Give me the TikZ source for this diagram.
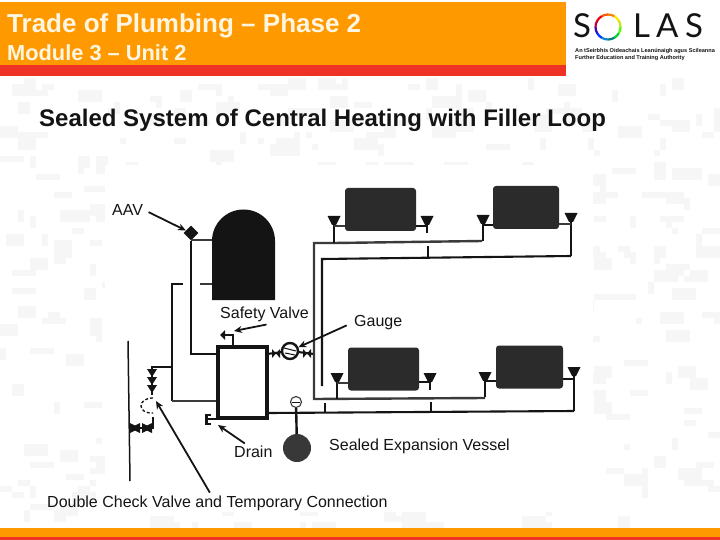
\documentclass[tikz,border=0pt]{standalone}
\usepackage{fontspec}
\setmainfont{Liberation Sans}
\newfontfamily\logofont{Lato}
\usetikzlibrary{arrows.meta,shapes.geometric}
\definecolor{band}{HTML}{FF9900}
\definecolor{redband}{HTML}{EE3326}
\definecolor{mottle}{HTML}{F6F6F6}
\definecolor{ink}{HTML}{141414}
\definecolor{headtxt}{HTML}{FFF6E2}
\definecolor{pipegrey}{HTML}{3A3A3A}
\definecolor{radfill}{HTML}{2B2B2B}
\tikzset{
  txt/.style={anchor=base west, inner sep=0pt, text=ink, font=\fontsize{16}{18}\selectfont},
  pipe/.style={draw=ink, line width=2.1pt},
  greypipe/.style={draw=pipegrey, line width=2.4pt},
  radiator/.style={draw=none, fill=radfill, rounded corners=3pt, inner sep=0pt, minimum height=43pt},
  funnel/.style={fill=ink, draw=none},
  pointer/.style={draw=ink, line width=1.8pt, -{Stealth[length=8pt,width=7pt]}},
}
\begin{document}
\begin{tikzpicture}[x=1pt, y=-1pt]
  \useasboundingbox (0,0) rectangle (720,540);
  \fill[white] (0,0) rectangle (720,540);

  % mottled background
  \pgfmathsetseed{2718}
  \foreach \i in {1,...,520} {
    \pgfmathrandominteger{\bx}{0}{119}
    \pgfmathrandominteger{\by}{13}{87}
    \pgfmathrandominteger{\bw}{1}{4}
    \pgfmathrandominteger{\bh}{1}{2}
    \fill[mottle] (6*\bx,6*\by) rectangle (6*\bx+6*\bw,6*\by+6*\bh);
  }
  \fill[white] (105,165) rectangle (593,512);

  % header and footer
  \fill[band] (0,2) rectangle (566,65);
  \fill[redband] (0,65) rectangle (566,76);
  \fill[band] (0,528) rectangle (720,537);
  \fill[redband] (0,537) rectangle (720,540);
  \node[txt, text=headtxt, font=\fontsize{26}{28}\selectfont\bfseries] (title) at (7,33) {Trade of Plumbing – Phase 2};
  \node[txt, text=headtxt, font=\fontsize{21.8}{24}\selectfont\bfseries] (module) at (7,61) {Module 3 – Unit 2};
  \node[txt, font=\fontsize{24}{26}\selectfont\bfseries] (heading) at (39,127) {Sealed System of Central Heating with Filler Loop};

  % logo
  \node[txt, font=\fontsize{33}{36}\logofont] (logos) at (573,38) {S};
  \foreach \a/\c in {0/yellow!80!green,30/yellow!90!orange,60/orange,90/orange!70!red,120/red!80!purple,150/purple,180/blue!70!purple,210/blue!80!cyan,240/cyan!70!blue,270/teal,300/green!60!teal,330/green!70!yellow} {
    \pgfmathsetmacro{\b}{\a+31}
    \draw[\c, line width=2.2pt] (608,27) ++(\a:12.5pt) arc[start angle=\a, end angle=\b, radius=12.5pt];
  }
  \node[txt, font=\fontsize{33}{36}\logofont] (logol) at (633,38) {L};
  \node[txt, font=\fontsize{33}{36}\logofont] (logoa) at (656,38) {A};
  \node[txt, font=\fontsize{33}{36}\logofont] (logoz) at (685,38) {S};
  \node[txt, font=\fontsize{5.6}{7}\selectfont\bfseries] (logoga) at (575,53) {An tSeirbhís Oideachais Leanúnaigh agus Scileanna};
  \node[txt, font=\fontsize{5.6}{7}\selectfont\bfseries] (logoen) at (575,60) {Further Education and Training Authority};

  % cylinder and its pipes
  \fill[black!92] (212,300) -- (212,241) arc[start angle=180, end angle=0, radius=31.5pt] -- (275,300) -- cycle;
  \node[diamond, fill=ink, inner sep=0pt, minimum size=15pt] (aavvalve) at (191,233) {};
  \draw[pipe] (aavvalve) -- (191,354) -- (217,354);
  \draw[greypipe] (aavvalve) ++(0,7) -- (212,240);
  \draw[pipe] (183,284) -- (172,284) -- (172,401);
  \draw[greypipe] (172,401) -- (217,401);
  \draw[greypipe] (200,284) -- (212,284);

  % boiler
  \node[draw=ink, fill=white, line width=3.4pt, minimum width=49pt, minimum height=71pt, inner sep=0pt] (boiler) at (242.5,382.5) {};
  \draw[pipe] (boiler.north -| 233,0) -- (233,335) -- (224,335);
  \fill[ink] (220,335) -- (225,330) -- (225,340) -- cycle;
  \coordinate (safetytip) at (234,331);
  \draw[pipe] (218,419) -- (208,419);
  \draw[pipe] (211,415) -- (206.5,415) -- (206.5,424) -- (211,424);
  \coordinate (draintip) at (218,425);

  % pump
  \node[circle, draw=ink, fill=white, line width=2.4pt, minimum size=16pt, inner sep=0pt] (pump) at (290,351) {};
  \draw[pipe] (267,354) -- (pump);
  \draw[pipe] (pump) -- (314,354);
  \draw[ink, line width=1pt] (284,348) -- (296,351) (285,353) -- (295,355);
  \foreach \vx in {276,307} {
    \fill[ink] (\vx-4,349) -- (\vx+4,358) -- (\vx+4,349) -- (\vx-4,358) -- cycle;
  }

  % flow and return pipes
  \draw[greypipe] (334,243) -- (314,243) -- (314,399) -- (485,398);
  \draw[greypipe] (334,243) -- (482,241);
  \draw[pipe] (322,386) -- (322,259) -- (571,256);
  \draw[pipe] (boiler.east |- 0,413) -- (574,411);
  \draw[pipe] (428,246) -- (428,258);
  \draw[pipe] (325,403) -- (325,413);
  \draw[pipe] (431,402) -- (431,412);

  % radiators
  \node[radiator, minimum width=71pt] (radone) at (380.5,209.5) {};
  \node[radiator, minimum width=66pt] (radtwo) at (526,207.5) {};
  \node[radiator, minimum width=71pt] (radthree) at (383.5,369) {};
  \node[radiator, minimum width=67pt] (radfour) at (529.5,367) {};

  % radiator valves, x / y / foot of stem
  \foreach \vx/\vy/\vend in {334/221/243, 427/221/233, 483/220/241, 571/218/256, 337/378/399, 430/378/390, 485/377/397, 574/372/411} {
    \draw[pipe] (\vx,\vy) -- (\vx,\vend);
    \fill[funnel] (\vx-6.5,\vy-5) -- (\vx+6.5,\vy-5) -- (\vx+2,\vy+4) -- (\vx-2,\vy+4) -- cycle;
  }
  \draw[greypipe] (radone.west |- 0,226) -- (334,226);
  \draw[pipe] (radone.east |- 0,226) -- (427,226);
  \draw[pipe] (radtwo.west |- 0,225) -- (483,225);
  \draw[greypipe] (radtwo.east |- 0,224) -- (571,224);
  \draw[greypipe] (radthree.west |- 0,383) -- (337,383);
  \draw[pipe] (radthree.east |- 0,382) -- (430,382);
  \draw[pipe] (radfour.west |- 0,381) -- (485,381);
  \draw[pipe] (radfour.east |- 0,379) -- (574,379);

  % expansion vessel
  \node[circle, draw=pipegrey, fill=white, line width=1.1pt, minimum size=11pt, inner sep=0pt] (gauge) at (296,402) {};
  \draw[ink, line width=.8pt] (292,402) -- (300,402);
  \node[circle, fill=black!78, minimum size=28pt, inner sep=0pt] (vessel) at (297,448) {};
  \draw[pipe, line width=2.4pt] (gauge) -- (vessel);

  % filler loop
  \draw[pipe] (172,367) -- (152,367) -- (152,395);
  \foreach \vy in {373,381,389} {
    \fill[ink] (152-5,\vy-4) -- (152+5,\vy-4) -- (152,\vy+4) -- cycle;
  }
  \draw[pipe, line width=1.3pt, dash pattern=on 3pt off 2pt] (153,398) .. controls (137,398) and (137,414) .. (153,413);
  \draw[pipe] (153,417) -- (153,428) -- (130,428);
  \foreach \vx in {135,147} {
    \fill[ink] (\vx-5,423) -- (\vx+5,428) -- (\vx-5,433) -- cycle;
    \fill[ink] (\vx+5,423) -- (\vx-5,428) -- (\vx+5,433) -- cycle;
  }
  \draw[ink, line width=1.5pt] (128,341) -- (130,481);
  \coordinate (loopgap) at (156,401);

  % labels
  \node[txt] (aavlabel) at (112,215) {AAV};
  \node[txt] (safetylabel) at (220,318) {Safety Valve};
  \node[txt] (gaugelabel) at (354,326) {Gauge};
  \node[txt] (drainlabel) at (234,457) {Drain};
  \node[txt] (vessellabel) at (329,450) {Sealed Expansion Vessel};
  \node[txt] (looplabel) at (47,507) {Double Check Valve and Temporary Connection};

  % pointers
  \draw[pointer, shorten <=6pt] (aavlabel.east) -- (aavvalve);
  \draw[pointer] (safetylabel.south) ++(2,3) -- (safetytip);
  \draw[pointer, shorten <=8pt] (gaugelabel.west) -- (pump);
  \draw[pointer, shorten <=3pt] (drainlabel.north) ++(-6,0) -- (draintip);
  \draw[pointer, shorten <=3pt] (looplabel.north) ++(-6,0) -- (loopgap);
\end{tikzpicture}
\end{document}
